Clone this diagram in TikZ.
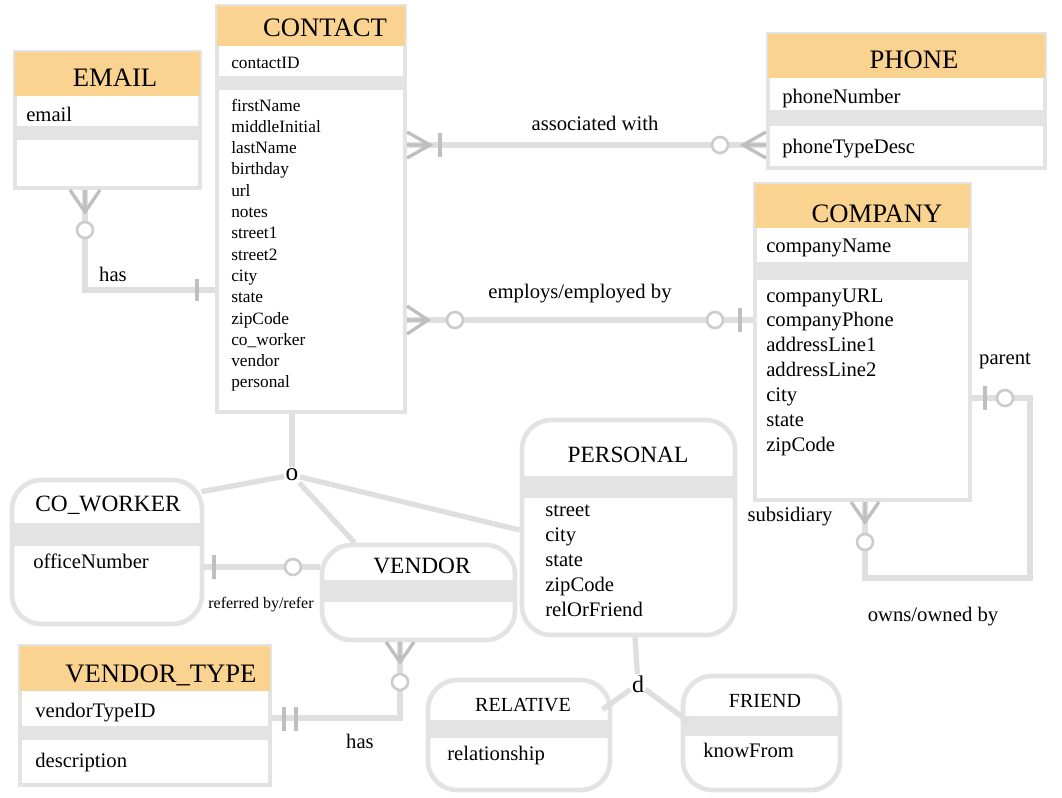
\documentclass[tikz,border=0pt]{standalone}
\usepackage{fontspec}
\setmainfont{Liberation Serif}
\usetikzlibrary{calc,fit,positioning}
\definecolor{hdrorange}{RGB}{250,211,145}

\begin{document}
\begin{tikzpicture}[x=0.75pt, y=-0.75pt,
  entity/.style={draw=gray!22, line width=3.5pt, fill=white, inner sep=0pt},
  weak/.style={entity, rounded corners=22pt},
  title/.style={font=\fontsize{20}{24}\selectfont},
  wtitle/.style={font=\fontsize{17.5}{21}\selectfont},
  stitle/.style={font=\fontsize{15}{18}\selectfont},
  attr/.style={anchor=west, inner sep=0pt, yshift=-2pt, text height=0.7em, text depth=0.2em, font=\fontsize{15.5}{18}\selectfont},
  sattr/.style={attr, font=\fontsize{13}{16}\selectfont},
  lbl/.style={font=\fontsize{15.5}{18}\selectfont},
  rel/.style={draw=gray!25, line width=4pt},
  cardmark/.style={draw=gray!50, line width=2.5pt},
  opt/.style={draw=gray!40, line width=2pt, fill=white}]

\useasboundingbox (0,0) rectangle (1062,797);

% entities
\node[entity, fit={(15,52) (200,188)}] (email) {};
\node[entity, fit={(217,6) (405,412)}] (contact) {};
\node[entity, fit={(768,34) (1045,168)}] (phone) {};
\node[entity, fit={(755,184) (970,500)}] (company) {};
\node[weak, fit={(12,480) (202,624)}] (coworker) {};
\node[weak, fit={(322,545) (515,640)}] (vendor) {};
\node[weak, fit={(522,420) (735,635)}] (personal) {};
\node[entity, fit={(20,646) (270,785)}] (vtype) {};
\node[weak, fit={(428,680) (610,790)}] (relative) {};
\node[weak, fit={(683,676) (840,790)}] (friend) {};

% headers
\fill[hdrorange] ($(email.north west)+(2,2)$) rectangle ($(email.north east)+(-2,46)$);
\fill[hdrorange] ($(contact.north west)+(2,2)$) rectangle ($(contact.north east)+(-2,42)$);
\fill[hdrorange] ($(phone.north west)+(2,2)$) rectangle ($(phone.north east)+(-2,46)$);
\fill[hdrorange] ($(company.north west)+(2,2)$) rectangle ($(company.north east)+(-2,46)$);
\fill[hdrorange] ($(vtype.north west)+(2,2)$) rectangle ($(vtype.north east)+(-2,47)$);

% separator bands
\fill[gray!22] ($(email.north west)+(0,76)$) rectangle ($(email.north east)+(0,90)$);
\fill[gray!22] ($(contact.north west)+(0,72)$) rectangle ($(contact.north east)+(0,86)$);
\fill[gray!22] ($(phone.north west)+(0,78)$) rectangle ($(phone.north east)+(0,94)$);
\fill[gray!22] ($(company.north west)+(0,80)$) rectangle ($(company.north east)+(0,98)$);
\fill[gray!22] ($(coworker.north west)+(0,45)$) rectangle ($(coworker.north east)+(0,68)$);
\fill[gray!22] ($(vendor.north west)+(0,37)$) rectangle ($(vendor.north east)+(0,59)$);
\fill[gray!22] ($(personal.north west)+(0,58)$) rectangle ($(personal.north east)+(0,80)$);
\fill[gray!22] ($(vtype.north west)+(0,82)$) rectangle ($(vtype.north east)+(0,96)$);
\fill[gray!22] ($(relative.north west)+(0,42)$) rectangle ($(relative.north east)+(0,60)$);
\fill[gray!22] ($(friend.north west)+(0,42)$) rectangle ($(friend.north east)+(0,62)$);

% titles
\node[title] (emailtitle) at (115,78) {EMAIL};
\node[title] (contacttitle) at (325,28) {CONTACT};
\node[title] (phonetitle) at (914,60) {PHONE};
\node[title] (companytitle) at (877,214) {COMPANY};
\node[title] (vtypetitle) at (161,675) {VENDOR\_TYPE};
\node[wtitle] (coworkertitle) at (108,505) {CO\_WORKER};
\node[wtitle] (vendortitle) at (422,566) {VENDOR};
\node[wtitle] (personaltitle) at (628,455) {PERSONAL};
\node[stitle] (relativetitle) at (523,705) {RELATIVE};
\node[stitle] (friendtitle) at (765,701) {FRIEND};

% attributes
\node[attr] (emailkey) at (26,115) {email};
\node[sattr] (contactkey) at (231,62) {contactID};
\foreach \a [count=\i from 0] in {firstName, middleInitial, lastName, birthday, url, notes, street1, street2, city, state, zipCode, co\_worker, vendor, personal}
  \node[sattr] (cattr\i) at (231, 105+21.3*\i) {\a};
\node[attr] (phonekey) at (782,97) {phoneNumber};
\node[attr] (phoneattr) at (782,147) {phoneTypeDesc};
\node[attr] (companykey) at (766,246) {companyName};
\foreach \a [count=\i from 0] in {companyURL, companyPhone, addressLine1, addressLine2, city, state, zipCode}
  \node[attr] (coattr\i) at (766, 296+24.9*\i) {\a};
\node[attr] (officenum) at (33,562) {officeNumber};
\foreach \a [count=\i from 0] in {street, city, state, zipCode, relOrFriend}
  \node[attr] (pattr\i) at (545, 510+25*\i) {\a};
\node[attr] (vtypekey) at (35,711) {vendorTypeID};
\node[attr] (vtypeattr) at (35,761) {description};
\node[attr] (relattr) at (447,754) {relationship};
\node[attr] (friendattr) at (703,751) {knowFrom};

% relationships
\coordinate (emailhas) at (85,290);
\coordinate (assoc) at (590,145);
\coordinate (emp) at (580,320);
\coordinate (parent) at (1030,398);
\coordinate (own) at (865,578);
\coordinate (refer) at (265,567);
\coordinate (vthas) at (400,718);

\draw[rel] (email.south -| emailhas) |- (contact.west |- emailhas);
\draw[rel] (contact.east |- assoc) -- (phone.west |- assoc);
\draw[rel] (contact.east |- emp) -- (company.west |- emp);
\draw[rel] (company.east |- parent) -- (parent) |- (own) -- (company.south -| own);
\draw[rel] (coworker.east |- refer) -- (vendor.west |- refer);
\draw[rel] (vendor.south -| vthas) |- (vtype.east |- vthas);

% overlap and disjoint
\node[font=\fontsize{19}{22}\selectfont, inner sep=1pt] (ovl) at (292,475) {o};
\node[font=\fontsize{18}{22}\selectfont, inner sep=1pt] (disj) at (638,684) {d};
\draw[rel] (contact.south -| ovl) -- (ovl);
\draw[rel] (ovl) -- ($(coworker.north east)+(-3,14)$);
\draw[rel] (ovl) -- ($(vendor.north west)+(35,0)$);
\draw[rel] (ovl) -- (personal.west |- 0,530);
\draw[rel] (personal.south -| 635,0) -- (disj);
\draw[rel] (disj) -- ($(relative.north east)+(-10,32)$);
\draw[rel] (disj) -- ($(friend.north west)+(8,48)$);

% cardinality marks
\draw[cardmark] (70,190) -- (85,212) -- (100,190) (85,190) -- (85,212);
\draw[opt] (85,230) circle[radius=6pt];
\draw[cardmark] (197,279) -- (197,301);

\draw[cardmark] (407,132) -- (430,145) -- (407,158) (407,145) -- (430,145);
\draw[cardmark] (440,133) -- (440,157);
\draw[cardmark] (766,132) -- (743,145) -- (766,158) (766,145) -- (743,145);
\draw[opt] (720,145) circle[radius=6pt];

\draw[cardmark] (407,306) -- (428,320) -- (407,334) (407,320) -- (428,320);
\draw[opt] (455,320) circle[radius=6pt];
\draw[opt] (715,320) circle[radius=6pt];
\draw[cardmark] (740,308) -- (740,332);

\draw[cardmark] (851,502) -- (865,522) -- (879,502) (865,502) -- (865,522);
\draw[opt] (865,542) circle[radius=6pt];
\draw[cardmark] (985,386) -- (985,410);
\draw[opt] (1005,398) circle[radius=6pt];

\draw[cardmark] (214,555) -- (214,579);
\draw[opt] (293,567) circle[radius=6pt];

\draw[cardmark] (386,642) -- (400,662) -- (414,642) (400,642) -- (400,662);
\draw[opt] (400,682) circle[radius=6pt];
\draw[cardmark] (284,707) -- (284,731);
\draw[cardmark] (296,707) -- (296,731);

% labels
\node[lbl] (assoclbl) at (595,123) {associated with};
\node[lbl] (emplbl) at (580,294) {employs/employed by};
\node[lbl] (emailhaslbl) at (113,274) {has};
\node[lbl] (vthaslbl) at (360,741) {has};
\node[font=\fontsize{12}{14}\selectfont] (referlbl) at (261,605) {referred by/refer};
\node[lbl] (parentlbl) at (1005,361) {parent};
\node[lbl] (sublbl) at (790,517) {subsidiary};
\node[lbl] (ownlbl) at (933,617) {owns/owned by};

\end{tikzpicture}
\end{document}
